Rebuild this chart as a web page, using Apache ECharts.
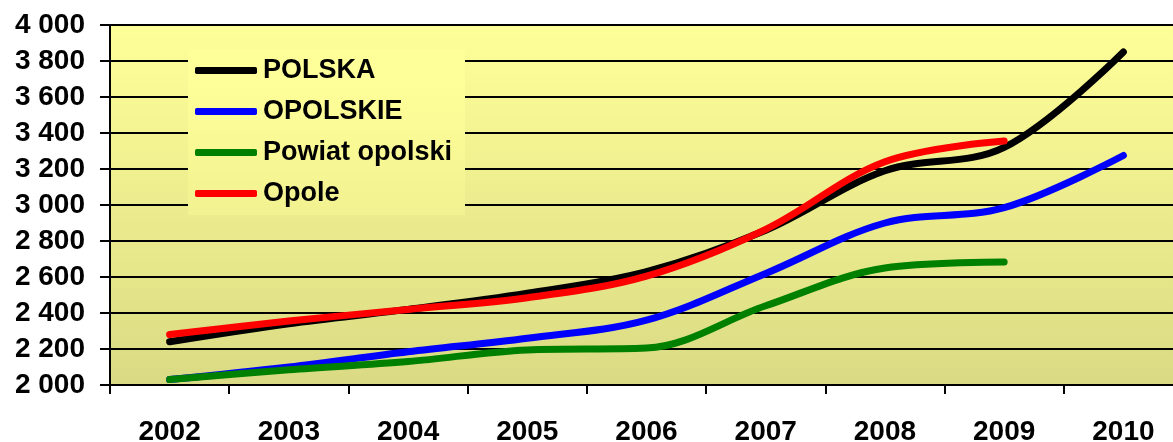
<!DOCTYPE html>
<html>
<head>
<meta charset="utf-8">
<script src="https://cdn.jsdelivr.net/npm/echarts@6/dist/echarts.min.js"></script>
<style>
html,body{margin:0;padding:0;background:#fff;}
#c{width:1173px;height:442px;}
</style>
</head>
<body>
<div id="c"></div>
<script>
const years = ['2002','2003','2004','2005','2006','2007','2008','2009','2010'];
const polska = [2240, 2340, 2420, 2510, 2630, 2860, 3190, 3320, 3850];
const opolskie = [2030, 2100, 2185, 2260, 2360, 2620, 2900, 2985, 3275];
const powiat = [2030, 2085, 2130, 2195, 2205, 2440, 2650, 2683];
const opole = [2280, 2355, 2420, 2485, 2605, 2865, 3240, 3355];
const seriesNames = ['POLSKA', 'OPOLSKIE', 'Powiat opolski', 'Opole'];
const seriesColors = ['#000000', '#0000FF', '#008000', '#FF0000'];

const FONT = '"Liberation Sans", Arial, sans-serif';
const topCol = '#FFFF99', botCol = '#DADA84';

const chart = echarts.init(document.getElementById('c'), null, {renderer: 'canvas'});
const data = [polska, opolskie, powiat, opole];
chart.setOption({
  animation: false,
  backgroundColor: '#ffffff',
  grid: {
    left: 110, right: -10, top: 25, bottom: 57,
    containLabel: false,
    outerBoundsMode: 'none',
    show: true, borderWidth: 0,
    backgroundColor: {type: 'linear', x: 0, y: 0, x2: 0, y2: 1,
      colorStops: [{offset: 0, color: topCol}, {offset: 1, color: botCol}]}
  },
  legend: {
    orient: 'vertical',
    left: 188, top: 49,
    padding: [8, 13, 8, 7],
    itemGap: 14,
    itemWidth: 62, itemHeight: 7,
    icon: 'roundRect',
    backgroundColor: {type: 'linear', x: 0, y: 25, x2: 0, y2: 385, global: true,
      colorStops: [{offset: 0, color: topCol}, {offset: 1, color: botCol}]},
    textStyle: {fontFamily: FONT, fontWeight: 'bold', fontSize: 27, color: '#000', padding: [0,0,0,1]},
    data: seriesNames
  },
  xAxis: {
    type: 'category',
    data: years,
    boundaryGap: true,
    axisLine: {show: true, lineStyle: {color: '#000', width: 2}},
    axisTick: {show: true, inside: false, length: 9, lineStyle: {color: '#000', width: 2}},
    axisLabel: {fontFamily: FONT, fontWeight: 'bold', fontSize: 28, color: '#000', margin: 33},
    splitLine: {show: false}
  },
  yAxis: {
    type: 'value',
    min: 2000, max: 4000, interval: 200,
    axisLine: {show: true, lineStyle: {color: '#000', width: 2}},
    axisTick: {show: true, inside: false, length: 10, lineStyle: {color: '#000', width: 2}},
    axisLabel: {fontFamily: FONT, fontWeight: 'bold', fontSize: 28, color: '#000', margin: 25,
      formatter: v => String(v).replace(/\B(?=(\d{3})+(?!\d))/g, ' ')},
    splitLine: {show: true, lineStyle: {color: '#000', width: 2}}
  },
  series: seriesNames.map((n, i) => ({
    name: n,
    type: 'line',
    data: data[i],
    smooth: 0.35,
    showSymbol: false,
    symbol: 'none',
    color: seriesColors[i],
    lineStyle: {color: seriesColors[i], width: 7, cap: 'round', join: 'round'},
    itemStyle: {color: seriesColors[i]}
  }))
});
</script>
</body>
</html>
